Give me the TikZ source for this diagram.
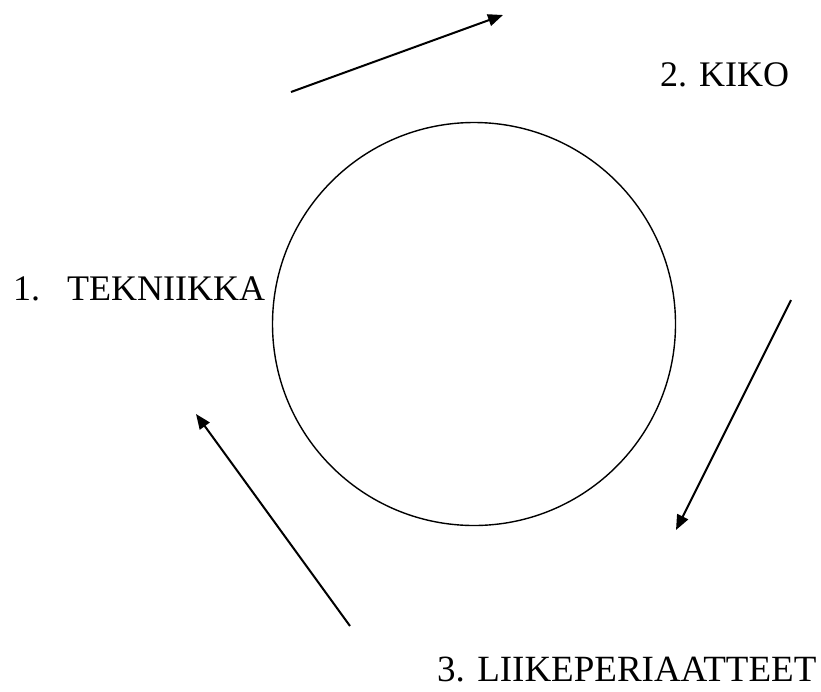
\documentclass[tikz,border=0pt]{standalone}
\usepackage{fontspec}
\setmainfont{Liberation Serif}
\usetikzlibrary{arrows.meta}
\begin{document}
\begin{tikzpicture}[x=1pt,y=-1pt,
  lbl/.style={anchor=base west,inner sep=0pt,font=\fontsize{36}{40}\selectfont},
  arr/.style={line width=2pt,-{Triangle[length=15pt,width=12pt]}}]
\useasboundingbox (0,0) rectangle (821,691);
\draw[line width=1.4pt] (474,324) circle (201.5);
\node[lbl] (t1n) at (13,300) {1.};
\node[lbl] (t1) at (67,300) {TEKNIIKKA};
\node[lbl] (t2) at (660,86) {2. KIKO};
\node[lbl,font=\fontsize{37}{40}\selectfont] (t3) at (437,681) {3. LIIKEPERIAATTEET};
\coordinate (a1s) at (291,92);
\coordinate (a1e) at (503,15);
\coordinate (a2s) at (791,300);
\coordinate (a2e) at (676,530);
\coordinate (a3s) at (350,626);
\coordinate (a3e) at (196,414);
\draw[arr] (a1s) -- (a1e);
\draw[arr] (a2s) -- (a2e);
\draw[arr] (a3s) -- (a3e);
\end{tikzpicture}
\end{document}
